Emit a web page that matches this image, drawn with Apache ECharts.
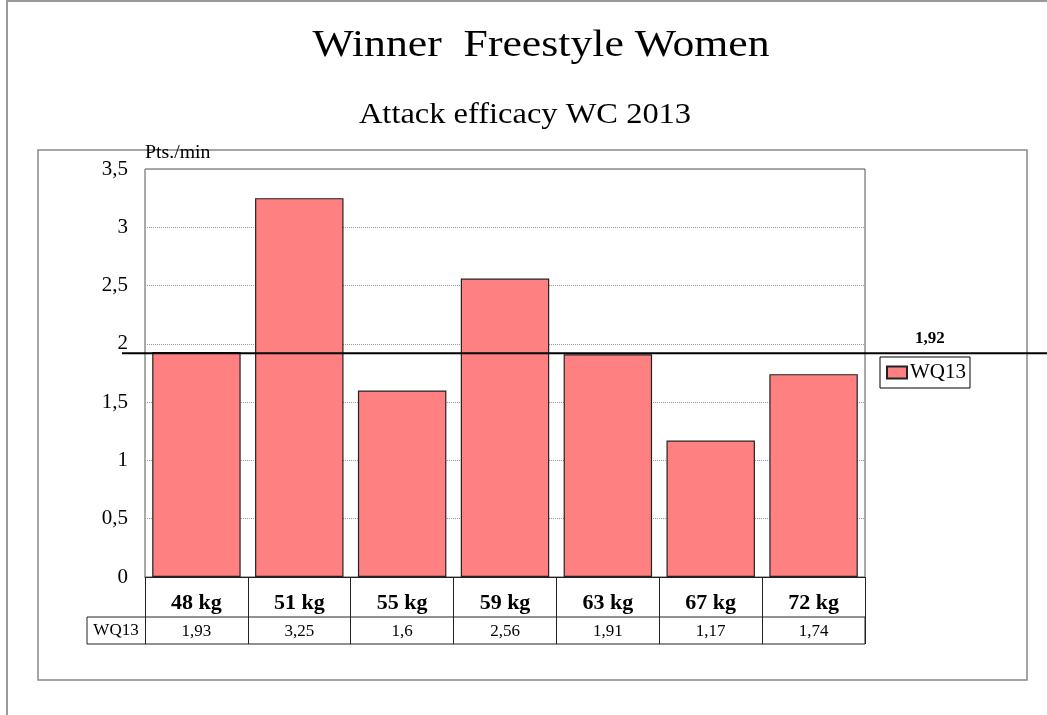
<!DOCTYPE html>
<html>
<head>
<meta charset="utf-8">
<script src="https://cdn.jsdelivr.net/npm/echarts@6/dist/echarts.min.js"></script>
<style>
html,body{margin:0;padding:0;background:#fff;}
#chart{width:1047px;height:715px;}
</style>
</head>
<body>
<div id="chart"></div>
<script>
const categories = ['48 kg', '51 kg', '55 kg', '59 kg', '63 kg', '67 kg', '72 kg'];
const seriesName = 'WQ13';
const values = [1.93, 3.25, 1.6, 2.56, 1.91, 1.17, 1.74];
const referenceValue = 1.92;
const yTicks = { min: 0, max: 3.5, interval: 0.5 };

const SERIF = "'Liberation Serif', 'Times New Roman', serif";
const fmt = v => String(v).replace('.', ',');

const chart = echarts.init(document.getElementById('chart'), null, { renderer: 'canvas' });

const option = {
  animation: false,
  backgroundColor: '#fff',
  textStyle: { fontFamily: SERIF, color: '#000' },
  grid: [
    { left: 145, top: 169, width: 720, height: 408, show: true, borderColor: '#555', borderWidth: 1, backgroundColor: 'transparent' },
    { left: 122, top: 169, width: 925, height: 408, show: false }
  ],
  xAxis: [
    {
      type: 'category', gridIndex: 0, data: categories, position: 'bottom',
      axisLine: { show: true, lineStyle: { color: '#222', width: 1 } },
      axisTick: { show: true, length: 67, interval: 0, lineStyle: { color: '#222', width: 1 } },
      axisLabel: { interval: 0, margin: 15, fontSize: 22, fontWeight: 'bold', color: '#000', fontFamily: SERIF },
      splitLine: { show: false }
    },
    {
      type: 'category', gridIndex: 0, data: values.map(fmt), position: 'bottom', offset: 40,
      axisLine: { show: false }, axisTick: { show: false },
      axisLabel: { interval: 0, margin: 6, fontSize: 17, color: '#000', fontFamily: SERIF }
    },
    { type: 'value', gridIndex: 1, min: 0, max: 1, show: false }
  ],
  yAxis: [
    {
      type: 'value', gridIndex: 0, min: yTicks.min, max: yTicks.max, interval: yTicks.interval,
      axisLine: { show: false }, axisTick: { show: false },
      axisLabel: { fontSize: 21, color: '#000', margin: 17, fontFamily: SERIF, formatter: v => fmt(v) },
      splitLine: { show: true, lineStyle: { color: '#999', type: 'dotted', width: 1 } }
    },
    { type: 'value', gridIndex: 1, min: yTicks.min, max: yTicks.max, show: false }
  ],
  legend: {
    data: [{ name: seriesName, icon: 'rect' }], selectedMode: false,
    left: 880, top: 357, orient: 'vertical',
    padding: [5, 4, 5, 6], itemWidth: 20, itemHeight: 12, itemGap: 0,
    borderColor: '#000', borderWidth: 1, backgroundColor: '#fff',
    textStyle: { fontSize: 21, color: '#000', fontFamily: SERIF, padding: [0, 0, 0, -2] }
  },
  series: [
    {
      name: seriesName, type: 'bar', xAxisIndex: 0, yAxisIndex: 0,
      data: values, barCategoryGap: '14%',
      itemStyle: { color: '#FF8080', borderColor: '#222', borderWidth: 1.2 },
      z: 2
    },
    {
      name: 'reference', type: 'line', xAxisIndex: 2, yAxisIndex: 1,
      data: [[0, referenceValue], [1, referenceValue]],
      showSymbol: false, symbol: 'none',
      lineStyle: { color: '#000', width: 2 },
      z: 10, silent: true,
      markPoint: {
        symbol: 'circle', symbolSize: 0,
        data: [{ coord: [0.8735, referenceValue], value: referenceValue }],
        label: { show: true, position: 'top', distance: 6, formatter: p => fmt(p.value), fontSize: 17, fontWeight: 'bold', color: '#000', fontFamily: SERIF }
      }
    }
  ],
  graphic: [
    { type: 'rect', shape: { x: 7, y: 1, width: 1100, height: 800 }, style: { fill: 'none', stroke: '#999', lineWidth: 2 }, z: -10, silent: true },
    { type: 'rect', shape: { x: 38, y: 150, width: 989, height: 530 }, style: { fill: 'none', stroke: '#888', lineWidth: 1.5 }, z: -10, silent: true },
    { type: 'text', x: 541, y: 46, scaleX: 1.15, style: { text: 'Winner  Freestyle Women', x: 0, y: 0, textAlign: 'center', textVerticalAlign: 'middle', font: '38px ' + SERIF, fill: '#000' }, silent: true },
    { type: 'text', x: 525, y: 115, scaleX: 1.12, style: { text: 'Attack efficacy WC 2013', x: 0, y: 0, textAlign: 'center', textVerticalAlign: 'middle', font: '29px ' + SERIF, fill: '#000' }, silent: true },
    { type: 'text', x: 145, y: 153, scaleX: 1.1, style: { text: 'Pts./min', x: 0, y: 0, textAlign: 'left', textVerticalAlign: 'middle', font: '18px ' + SERIF, fill: '#000' }, silent: true, z: 20 },
    { type: 'rect', shape: { x: 87, y: 617, width: 778, height: 27 }, style: { fill: 'none', stroke: '#222', lineWidth: 1 }, silent: true, z: 20 },
    { type: 'text', x: 116, y: 631, style: { text: seriesName, x: 0, y: 0, textAlign: 'center', textVerticalAlign: 'middle', font: '17px ' + SERIF, fill: '#000' }, silent: true, z: 20 }
  ]
};

chart.setOption(option);
</script>
</body>
</html>
